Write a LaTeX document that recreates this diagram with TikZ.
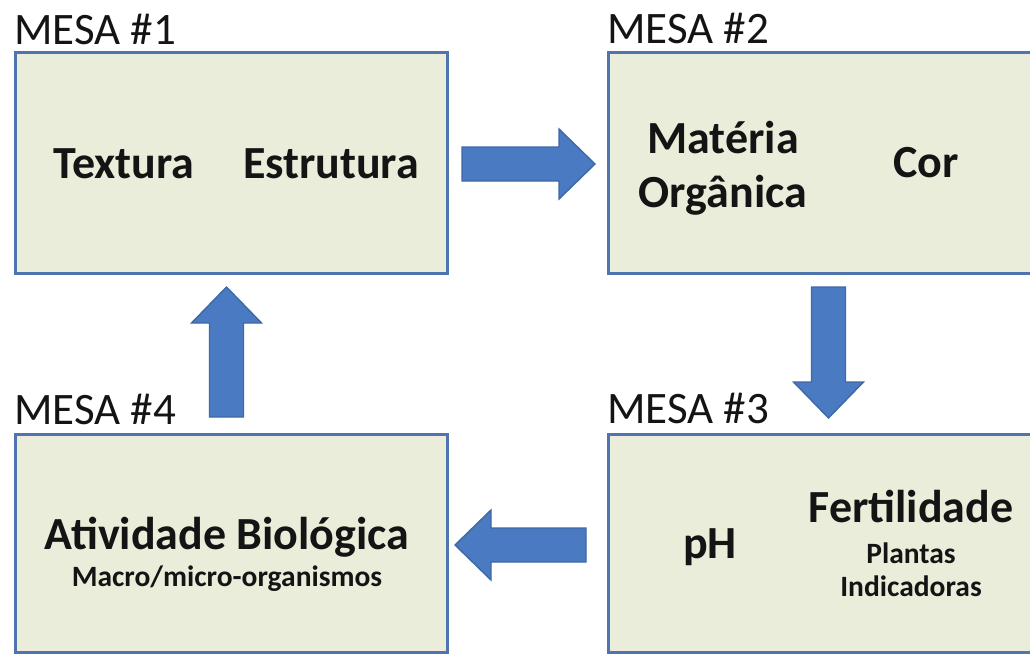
\documentclass[tikz,border=0pt]{standalone}
\usepackage{fontspec}
\setmainfont{Carlito}
\usetikzlibrary{calc}
\definecolor{boxfill}{HTML}{EBEDDB}
\definecolor{boxline}{HTML}{4F74B0}
\definecolor{arrfill}{HTML}{4A7BC2}
\definecolor{arrline}{HTML}{3F68A6}
\definecolor{txt}{HTML}{141414}
\tikzset{
  mesabox/.style={draw=boxline, fill=boxfill, line width=2.6pt, anchor=north west, inner sep=0pt},
  mesalabel/.style={anchor=base west, inner sep=0pt, text=txt, font=\fontsize{45}{54}\selectfont},
  bigtxt/.style={anchor=base, inner sep=0pt, text=txt, font=\bfseries\fontsize{46}{55}\selectfont},
  smalltxt/.style={anchor=base, inner sep=0pt, text=txt, font=\bfseries\fontsize{29.5}{35}\selectfont},
  blockarrow/.style={draw=arrline, fill=arrfill, line width=1.4pt, line join=miter}
}
\newcommand{\blockarr}[3]{%
  \coordinate (#1h) at ($(#3)!36pt!(#2)$);
  \draw[blockarrow] ($(#2)!17pt!90:(#3)$) -- ($(#1h)!17pt!90:(#3)$) -- ($(#1h)!35pt!90:(#3)$)
    -- (#3) -- ($(#1h)!35pt!-90:(#3)$) -- ($(#1h)!17pt!-90:(#3)$) -- ($(#2)!17pt!-90:(#3)$) -- cycle;
}
\begin{document}
\begin{tikzpicture}[x=1pt,y=-1pt]
\clip (0,0) rectangle (1030,653);
\fill[white] (0,0) rectangle (1030,653);
% boxes
\node[mesabox, minimum width=432pt, minimum height=221pt] (b1) at (14,51) {};
\node[mesabox, minimum width=440pt, minimum height=221pt] (b2) at (607,51) {};
\node[mesabox, minimum width=440pt, minimum height=218pt] (b3) at (607,433) {};
\node[mesabox, minimum width=432pt, minimum height=218pt] (b4) at (14,433) {};
% labels
\node[mesalabel] (l1) at (14,44) {MESA \#1};
\node[mesalabel] (l2) at (607,43) {MESA \#2};
\node[mesalabel] (l3) at (607,423) {MESA \#3};
\node[mesalabel] (l4) at (14,424) {MESA \#4};
% texts
\node[bigtxt] (t1a) at (124,178) {Textura};
\node[bigtxt] (t1b) at (331,178) {Estrutura};
\node[bigtxt] (t2a) at (723,153) {Matéria};
\node[bigtxt] (t2b) at (723,207) {Orgânica};
\node[bigtxt] (t2c) at (926,177) {Cor};
\node[bigtxt] (t3a) at (710,558) {pH};
\node[bigtxt] (t3b) at (911,522) {Fertilidade};
\node[smalltxt] (t3c) at (911,563) {Plantas};
\node[smalltxt] (t3d) at (911,596) {Indicadoras};
\node[bigtxt] (t4a) at (227,549) {Atividade Biológica};
\node[smalltxt] (t4b) at (227,586) {Macro/micro-organismos};
% arrow end points
\coordinate (s12) at (462,164);   \coordinate (e12) at (595,164);
\coordinate (s23) at (828.5,287); \coordinate (e23) at (828.5,418);
\coordinate (s34) at (586,545);   \coordinate (e34) at (455,545);
\coordinate (s41) at (226.5,417); \coordinate (e41) at (226.5,287);
\blockarr{a12}{s12}{e12}
\blockarr{a23}{s23}{e23}
\blockarr{a34}{s34}{e34}
\blockarr{a41}{s41}{e41}
\end{tikzpicture}
\end{document}
